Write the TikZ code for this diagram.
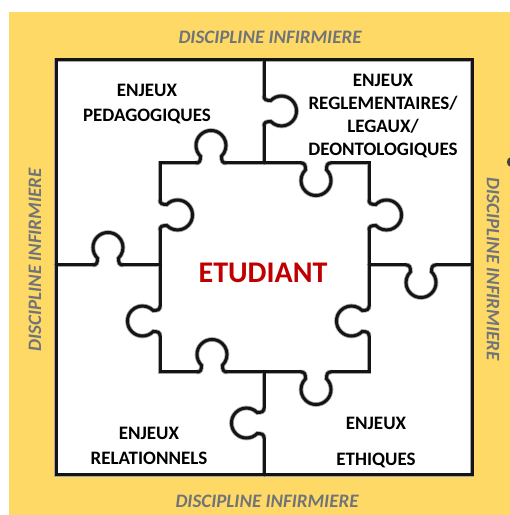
\documentclass[tikz,border=0pt]{standalone}
\usepackage{fontspec}
\setmainfont{Carlito}
\definecolor{bgyellow}{HTML}{FFD966}
\definecolor{discgray}{HTML}{707479}
\definecolor{etured}{HTML}{C00000}
\newcommand\tabat[3]{\draw[pz,shift={(#1,#2)},rotate=#3] (-15,0) .. controls (-11.5,0) and (-10.5,2) .. (-10.5,6.8) arc[start angle=225.6,end angle=-45.6,radius=15] .. controls (10.5,2) and (11.5,0) .. (15,0);}
\newcommand\puzzlelines{%
  \draw[pz] (56,40) rectangle (472,455);
  % top divider
  \draw[pz] (264,455) -- (264,419); \tabat{264}{404}{-90} \draw[pz] (264,389) -- (264,352);
  % bottom divider
  \draw[pz] (264,143) -- (264,107); \tabat{264}{92}{90} \draw[pz] (264,77) -- (264,40);
  % left divider
  \draw[pz] (56,250) -- (93,250); \tabat{108}{250}{0} \draw[pz] (123,250) -- (160,250);
  % right divider
  \draw[pz] (369,250) -- (406,250); \tabat{421}{250}{180} \draw[pz] (436,250) -- (472,250);
  % central piece corners
  \draw[pz] (196,352) -- (160,352) -- (160,315);
  \draw[pz] (331,352) -- (369,352) -- (369,315);
  \draw[pz] (369,179) -- (369,143) -- (331,143);
  \draw[pz] (197,143) -- (160,143) -- (160,179);
  % central straight parts
  \draw[pz] (226,352) -- (301,352);
  \draw[pz] (369,285) -- (369,209);
  \draw[pz] (227,143) -- (301,143);
  \draw[pz] (160,285) -- (160,209);
  % central tabs
  \tabat{211}{352}{0} \tabat{316}{352}{180}
  \tabat{369}{300}{-90} \tabat{369}{194}{90}
  \tabat{212}{143}{0} \tabat{316}{143}{180}
  \tabat{160}{300}{-90} \tabat{160}{194}{90}
}
\begin{document}
\begin{tikzpicture}[x=1pt,y=1pt,
  label/.style={font=\fontsize{19}{25}\selectfont\bfseries, align=center, inner sep=0pt},
  disc/.style={font=\fontsize{19}{22}\selectfont\bfseries\itshape, text=discgray, inner sep=0pt}]
  \useasboundingbox[fill=white] (0,0) rectangle (510,515);
  \fill[bgyellow] (9,0) rectangle (510,503);
  \fill[white] (56,40) rectangle (472,455);
  \fill[black!75] (510,353) ellipse (3 and 4.5);
  \tikzset{pz/.style={draw=black!35, line width=4.6pt, line cap=round, line join=miter}}
  \puzzlelines
  \tikzset{pz/.style={draw=black!92, line width=3pt, line cap=round, line join=miter}}
  \puzzlelines
  % labels
  \node[label] (ped) at (147,411) {ENJEUX\\PEDAGOGIQUES};
  \node[label, font=\fontsize{19}{23.3}\selectfont\bfseries] (reg) at (383,399) {ENJEUX\\REGLEMENTAIRES/\\LEGAUX/\\DEONTOLOGIQUES};
  \node[label] (rel) at (149,69) {ENJEUX\\RELATIONNELS};
  \node[label, font=\fontsize{19}{36}\selectfont\bfseries] (eth) at (376,72) {ENJEUX\\ETHIQUES};
  \node[font=\fontsize{30}{30}\selectfont\bfseries, text=etured, inner sep=0pt] (etu) at (263,242) {ETUDIANT};
  \node[disc] (dtop) at (270,478) {DISCIPLINE INFIRMIERE};
  \node[disc] (dbot) at (267,14) {DISCIPLINE INFIRMIERE};
  \node[disc, rotate=90] (dleft) at (35,255) {DISCIPLINE INFIRMIERE};
  \node[disc, rotate=-90] (dright) at (493,246) {DISCIPLINE INFIRMIERE};
\end{tikzpicture}
\end{document}
